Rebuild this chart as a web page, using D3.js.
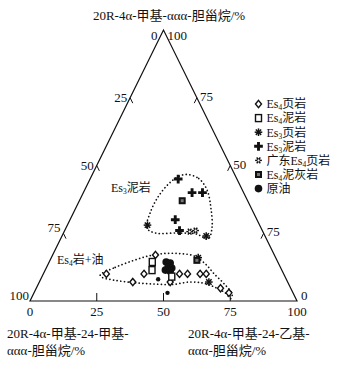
<!DOCTYPE html>
<html><head><meta charset="utf-8">
<script src="https://cdnjs.cloudflare.com/ajax/libs/d3/7.8.5/d3.min.js"></script>
<style>
body{margin:0;background:#fff;}
text{font-family:"Liberation Serif","Noto Sans CJK SC",serif;fill:#111;}
</style></head>
<body><svg id="c" width="338" height="369"></svg>
<script>
// ---- data: each point is [top %, bottom-right %]; bottom-left % = 100 - top - right
const topTitle = "20R-4α-甲基-ααα-胆甾烷/%";
const leftTitle = ["20R-4α-甲基-24-甲基-", "ααα-胆甾烷/%"];
const rightTitle = ["20R-4α-甲基-24-乙基-", "ααα-胆甾烷/%"];
const tickValues = [0, 25, 50, 75, 100];
const leftTickLabels = ["0", "25", "50", "75", "100"];
const rightTickLabels = ["100", "75", "50", "75", "0"];
const bottomTickLabels = ["0", "25", "50", "75", "100"];

const es4Shale = [[10,23.6],[7,35],[10,37.7],[17,38.5],[10,51],[10,54],[10,58.7],[10,61],[4.7,69],[3,73],[7,49]];
const es4Mud = [[14.4,38.6],[11.4,40],[9,48.6]];
const es3Shale = [[28,30],[24,54],[7,63.5],[16,55]];
const es3Mud = [[45,33],[40,40.7],[40,44.6],[30,39.4],[26,43]];
const gdEs4Shale = [[25.6,47],[26,49]];
const es4Marl = [[37,38.5],[15,55]];
const crudeOil = [[14.4,43.8],[14,45.5],[12.5,45.5],[12.2,47],[11.4,45],[11,47]];
const crudeOilSmall = [[8,44],[3,50]];

const es3MudOutline = [[46.7,35.4],[45.2,40.6],[41,45.8],[34.3,50.6],[26.9,54.7],[22.9,55.3],[24.7,50],[25.1,43],[25.1,34.4],[26.9,30.3],[32.8,28.7],[38.7,28.8],[43.2,30.3],[45.8,32.4]];
const es4OilOutline = [[9.6,21.5],[12.4,25.7],[14.8,30.9],[16.6,36],[17.5,41.2],[17.5,47.5],[16.6,53.2],[13.7,58.8],[10,64],[6.3,69.6],[2.6,74.4],[0.9,74.8],[3,71.6],[5.2,66.4],[6.6,61.5],[7,56.4],[6.1,50.2],[6.3,42.6],[6.8,34.8],[7.7,27.6],[8.7,22.7]];

const legendNames = [
  {k:"diamond", parts:[["Es",0],["4",1],["页岩",0]]},
  {k:"square", parts:[["Es",0],["4",1],["泥岩",0]]},
  {k:"asterisk", parts:[["Es",0],["3",1],["页岩",0]]},
  {k:"cross", parts:[["Es",0],["3",1],["泥岩",0]]},
  {k:"flower", parts:[["广东Es",0],["4",1],["页岩",0]]},
  {k:"grid", parts:[["Es",0],["4",1],["泥灰岩",0]]},
  {k:"circle", parts:[["原油",0]]}
];

// ---- scales
const sx = d3.scaleLinear().domain([0,1]).range([30,297]);
const sy = d3.scaleLinear().domain([0,1]).range([301,30]);
function P(top, br){ const a=top/100, r=br/100; return [sx(r + a/2), sy(a)]; }

const svg = d3.select("#c");

// triangle
const verts = [P(100,0), P(0,0), P(0,100)];
svg.append("path").attr("d", d3.line()(verts)+"Z").attr("fill","none").attr("stroke","#111").attr("stroke-width",1.2);

// ticks & labels
const tl = 6;
tickValues.forEach((v,i)=>{
  // left side: bottom-left component, 0 at apex
  const pl = P(100-v, 0);
  if (v>0 && v<100){
    svg.append("line").attr("x1",pl[0]).attr("y1",pl[1]).attr("x2",pl[0]+tl*0.44).attr("y2",pl[1]+tl*0.9).attr("stroke","#111");
  }
  let dxl = -3, dyl = 4;
  if (v===0){dxl=-6; dyl=10;}
  if (v===100){dxl=-1; dyl=-1;}
  if (v===75){dyl=-1;}
  svg.append("text").attr("x",pl[0]+dxl).attr("y",pl[1]+dyl).attr("text-anchor","end").attr("font-size",13).text(leftTickLabels[i]);
  // right side: top component, 100 at apex
  const pr = P(100-v, v);
  if (v>0 && v<100){
    svg.append("line").attr("x1",pr[0]).attr("y1",pr[1]).attr("x2",pr[0]-tl*0.44).attr("y2",pr[1]+tl*0.9).attr("stroke","#111");
  }
  let dxr = 3, dyr = 3;
  if (v===0){dxr=4; dyr=10;}
  if (v===100){dxr=4; dyr=-1;}
  svg.append("text").attr("x",pr[0]+dxr).attr("y",pr[1]+dyr).attr("text-anchor","start").attr("font-size",13).text(rightTickLabels[i]);
  // bottom: bottom-right component
  const pb = P(0, v);
  if (v>0 && v<100){
    svg.append("line").attr("x1",pb[0]).attr("y1",pb[1]).attr("x2",pb[0]).attr("y2",pb[1]-8).attr("stroke","#111");
  }
  svg.append("text").attr("x",pb[0]).attr("y",pb[1]+15).attr("text-anchor","middle").attr("font-size",13).text(bottomTickLabels[i]);
});

// titles
svg.append("text").attr("x",169).attr("y",20).attr("text-anchor","middle").attr("font-size",13).text(topTitle);
leftTitle.forEach((t,i)=>svg.append("text").attr("x",7).attr("y",338+i*17).attr("font-size",13).text(t));
rightTitle.forEach((t,i)=>svg.append("text").attr("x",188).attr("y",338+i*17).attr("font-size",13).text(t));

// enclosures
const outline = d3.line().curve(d3.curveCatmullRomClosed.alpha(0.5));
[es3MudOutline, es4OilOutline].forEach(o=>{
  svg.append("path").attr("d", outline(o.map(d=>P(d[0],d[1]))))
    .attr("fill","none").attr("stroke","#111").attr("stroke-width",1.7)
    .attr("stroke-dasharray","0.1,3.6").attr("stroke-linecap","round");
});

// symbols
function sym(g, k, x, y, big){
  const s = g.append("g").attr("transform",`translate(${x},${y})`);
  if (k==="diamond"){
    s.append("path").attr("d","M0,-3.6L3,0L0,3.6L-3,0Z").attr("fill","#fff").attr("stroke","#111").attr("stroke-width",1.4);
  } else if (k==="square"){
    s.append("rect").attr("x",-3).attr("y",-3.5).attr("width",6).attr("height",7).attr("fill","#fff").attr("stroke","#111").attr("stroke-width",1.4);
  } else if (k==="asterisk"){
    [0,45,90,135].forEach(a=>{
      const r=3.8, c=Math.cos(a*Math.PI/180)*r, sn=Math.sin(a*Math.PI/180)*r;
      s.append("line").attr("x1",-c).attr("y1",-sn).attr("x2",c).attr("y2",sn).attr("stroke","#111").attr("stroke-width",1.5);
    });
  } else if (k==="cross"){
    s.append("path").attr("d", d3.symbol(d3.symbolCross, 42)()).attr("fill","#111");
  } else if (k==="flower"){
    [0,60,120].forEach(a=>{
      const r=3.4, c=Math.cos(a*Math.PI/180)*r, sn=Math.sin(a*Math.PI/180)*r;
      s.append("line").attr("x1",-c).attr("y1",-sn).attr("x2",c).attr("y2",sn).attr("stroke","#111").attr("stroke-width",1.4);
    });
    s.append("circle").attr("r",1.5).attr("fill","#fff").attr("stroke","#111").attr("stroke-width",0.9);
  } else if (k==="grid"){
    s.append("rect").attr("x",-3.5).attr("y",-3.5).attr("width",7).attr("height",7).attr("fill","#111");
    s.append("rect").attr("x",-1.5).attr("y",-1.5).attr("width",3).attr("height",3).attr("fill","#777");
  } else if (k==="circle"){
    s.append("circle").attr("r", big===false?2.2:3.8).attr("fill","#111");
  }
}
const gp = svg.append("g");
const series = [["circle",crudeOil],["diamond",es4Shale],["square",es4Mud],["asterisk",es3Shale],["cross",es3Mud],["flower",gdEs4Shale],["grid",es4Marl]];
series.forEach(([k,arr])=>arr.forEach(d=>{const p=P(d[0],d[1]); sym(gp,k,p[0],p[1]);}));
crudeOilSmall.forEach(d=>{const p=P(d[0],d[1]); sym(gp,"circle",p[0],p[1],false);});

// in-plot labels
function subText(x,y,parts,size){
  const t = svg.append("text").attr("x",x).attr("y",y).attr("font-size",size);
  parts.forEach(([s,sub])=>{
    const ts = t.append("tspan").text(s);
    if (sub){ ts.attr("font-size",size*0.62).attr("dy",2); }
    else if (t.selectAll("tspan").size()>1){ ts.attr("dy",-2); }
  });
  return t;
}
subText(111,192,[["Es",0],["3",1],["泥岩",0]],12);
subText(57,264,[["Es",0],["4",1],["岩+油",0]],12);

// legend
legendNames.forEach((l,i)=>{
  const y = 104 + i*14.1;
  sym(svg, l.k, 258.5, y);
  subText(266.5, y+4.3, l.parts, 12);
});
</script></body></html>
